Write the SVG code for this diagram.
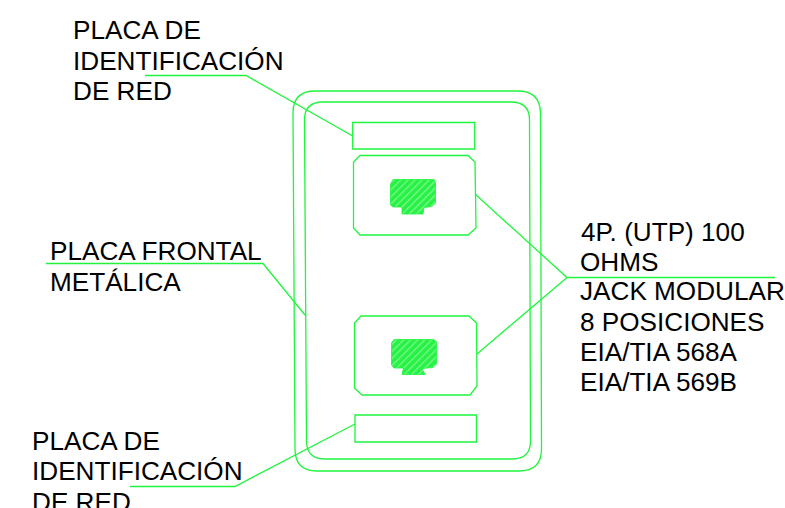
<svg xmlns="http://www.w3.org/2000/svg" width="785" height="508" viewBox="0 0 785 508">
<defs>
<pattern id="h" width="5" height="5" patternUnits="userSpaceOnUse" patternTransform="rotate(-45)">
<rect width="5" height="5" fill="#26f244"/>
<rect y="0" width="5" height="1.3" fill="#7cf78f"/>
</pattern>
</defs>
<style>
.l{fill:none;stroke:#1ef53c;stroke-width:1.3}
.i{fill:url(#h);stroke:#1ef53c;stroke-width:.8}
text{font-family:"Liberation Sans",Arial,sans-serif;font-size:26.150px;fill:#000}
</style>
<rect width="785" height="508" fill="#fff"/>
<g id="connectors">
<path class="l" d="M145 75.500H246L352.700 136"/>
<path class="l" d="M46 263.500H263L305 315"/>
<path class="l" d="M355 424L235 486.500H130"/>
<path class="l" d="M775 277.500H567L475 194M567 277.500L477 354"/>
</g>
<g id="placa-frontal">
<path class="l" d="M293 113Q293 91 315 91H518Q540 91 540.500 113L541.500 449Q541.500 471 519 471H317Q295 471 295 449Z"/>
<path class="l" d="M304.500 120Q304.500 102 323 102H511Q529.500 102 529.500 120L530.500 441Q530.500 459 512 459H325Q306.500 459 306.500 441Z"/>
</g>
<g id="placa-id-superior"><path class="l" d="M352.700 122.500H474.700V149H352.700Z"/></g>
<g id="jack-1">
<path class="l" d="M360 155.500H468L475 162L476 228L468 235H360L353.500 228V162Z"/>
<path class="i" d="M393 179.500H434L435.500 183V203L432 206.500L424 207.500L423 214H402V207H393L390.500 205V184Z"/>
</g>
<g id="jack-2">
<path class="l" d="M361 316H469L476.500 323L477 386L470 395H362L354.500 388V323Z"/>
<path class="i" d="M394 339.500H434L436.500 342V364L433 367.500L422 368.500L425 374.500H402L403.500 368H394L391.500 365V343Z"/>
</g>
<g id="placa-id-inferior"><path class="l" d="M355 415H476.500V442H355Z"/></g>
<g id="etiqueta-superior"><text x="73" y="39">PLACA DE</text><text x="73" y="69.500">IDENTIFICACIÓN</text><text x="73" y="100">DE RED</text></g>
<g id="etiqueta-frontal"><text x="50" y="259.500">PLACA FRONTAL</text><text x="50" y="291">METÁLICA</text></g>
<g id="etiqueta-inferior"><text x="32" y="449.500">PLACA DE</text><text x="32" y="480">IDENTIFICACIÓN</text><text x="32" y="510.500">DE RED</text></g>
<g id="etiqueta-jack"><text x="581" y="240.500">4P. (UTP) 100</text><text x="580" y="270.500">OHMS</text><text x="580" y="300">JACK MODULAR</text><text x="580" y="331">8 POSICIONES</text><text x="580" y="361">EIA/TIA 568A</text><text x="580" y="391">EIA/TIA 569B</text></g>
</svg>
